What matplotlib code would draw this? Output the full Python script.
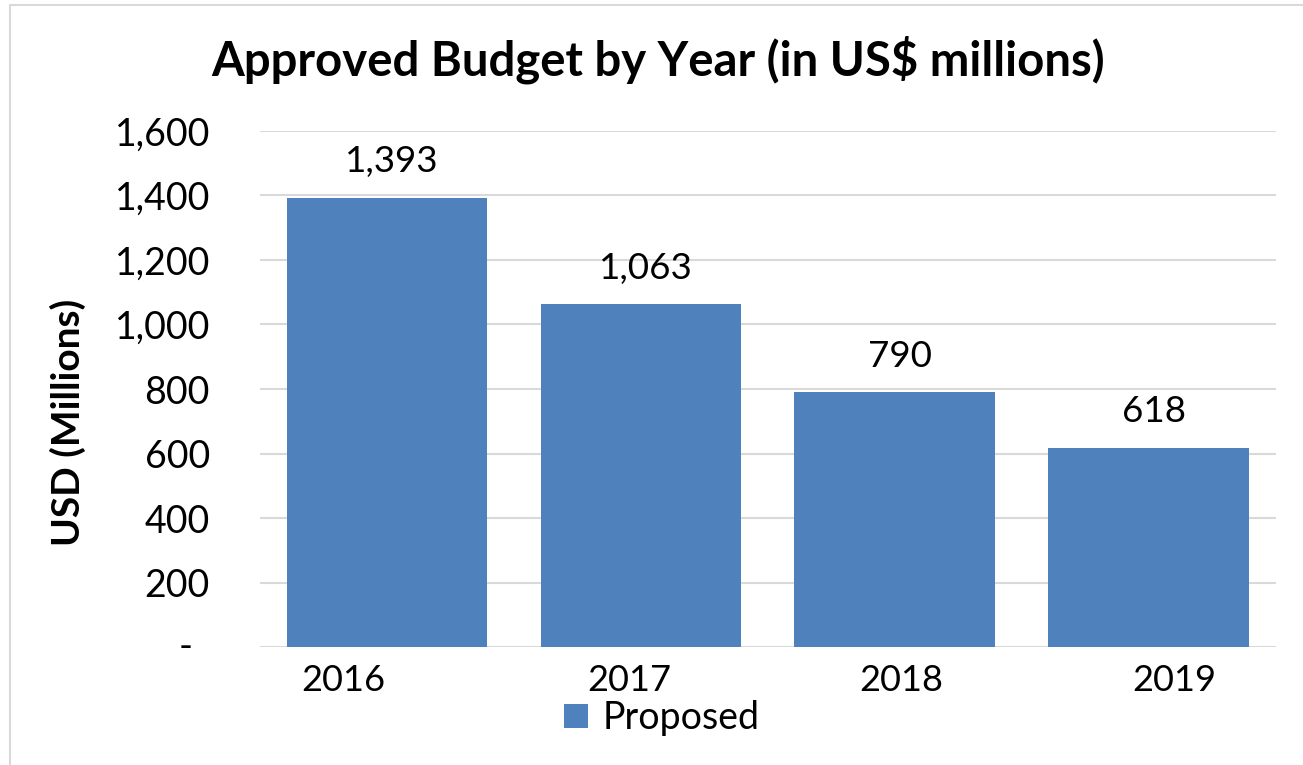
import numpy as np
import matplotlib
matplotlib.use("Agg")
import matplotlib.pyplot as plt
import matplotlib.transforms as mtransforms
from matplotlib.patches import Rectangle

years = ["2016", "2017", "2018", "2019"]
budget = [1393, 1063, 790, 618]
y_ticks = [0, 200, 400, 600, 800, 1000, 1200, 1400, 1600]
# year labels in the source sit a bit off the bar centres
label_shift = [-0.17, -0.047, 0.024, 0.1]

BAR_COLOR = "#4F81BD"
GRID_COLOR = "#D9D9D9"

fig = plt.figure(figsize=(13.03, 7.65), dpi=100)
ax = fig.add_axes([0.1995, 0.1542, 0.7795, 0.6746])

# light frame round the chart area
fig.patches.append(Rectangle((0.0077, -0.01), 1.0, 1.0034, transform=fig.transFigure,
                             fill=False, edgecolor="#D9D9D9", linewidth=1.5))

x = np.arange(len(years))
bars = ax.bar(x, budget, width=0.79, color=BAR_COLOR, label="Proposed", zorder=2)

ax.set_xlim(-0.5, 3.5)
ax.set_ylim(0, 1600)
ax.set_yticks(y_ticks)
ax.set_yticklabels(["" if v == 0 else f"{v:,}" for v in y_ticks],
                   fontsize=27, family="Lato")
ax.tick_params(axis="y", length=0, pad=36)
ax.set_xticks([])
ax.grid(axis="y", color=GRID_COLOR, linewidth=1.5, zorder=0)
for s in ax.spines.values():
    s.set_visible(False)

# accounting style dash for zero
ytrans = mtransforms.blended_transform_factory(ax.transAxes, ax.transData)
ax.text(-0.0735, 0, "-", transform=ytrans, ha="center", va="center",
        fontsize=27, family="Lato")

# value labels above bars
for xi, v in zip(x, budget):
    ax.annotate(f"{v:,}", (xi + 0.02, v), xytext=(0, 26), textcoords="offset points",
                ha="center", va="center", fontsize=26.5, family="Lato")

# year labels under the axis
trans = mtransforms.blended_transform_factory(ax.transData, ax.transAxes)
for xi, yr, sh in zip(x, years, label_shift):
    ax.text(xi + sh, -0.064, yr, transform=trans, ha="center", va="center",
            fontsize=26, family="Lato")

fig.text(0.052, 0.448, "USD (Millions)", rotation=90, ha="center", va="center",
         fontsize=28, fontweight="bold", family="Lato")

fig.text(0.505, 0.922, "Approved Budget by Year (in US$ millions)", ha="center", va="center",
         fontsize=34, fontweight="bold", family="Lato")

fig.legend(handles=[bars], labels=["Proposed"], loc="center", bbox_to_anchor=(0.508, 0.0614),
           frameon=False, prop={"family": "Lato", "size": 27},
           handlelength=0.62, handleheight=0.62, handletextpad=0.4)

fig.savefig("out.png", dpi=100)
